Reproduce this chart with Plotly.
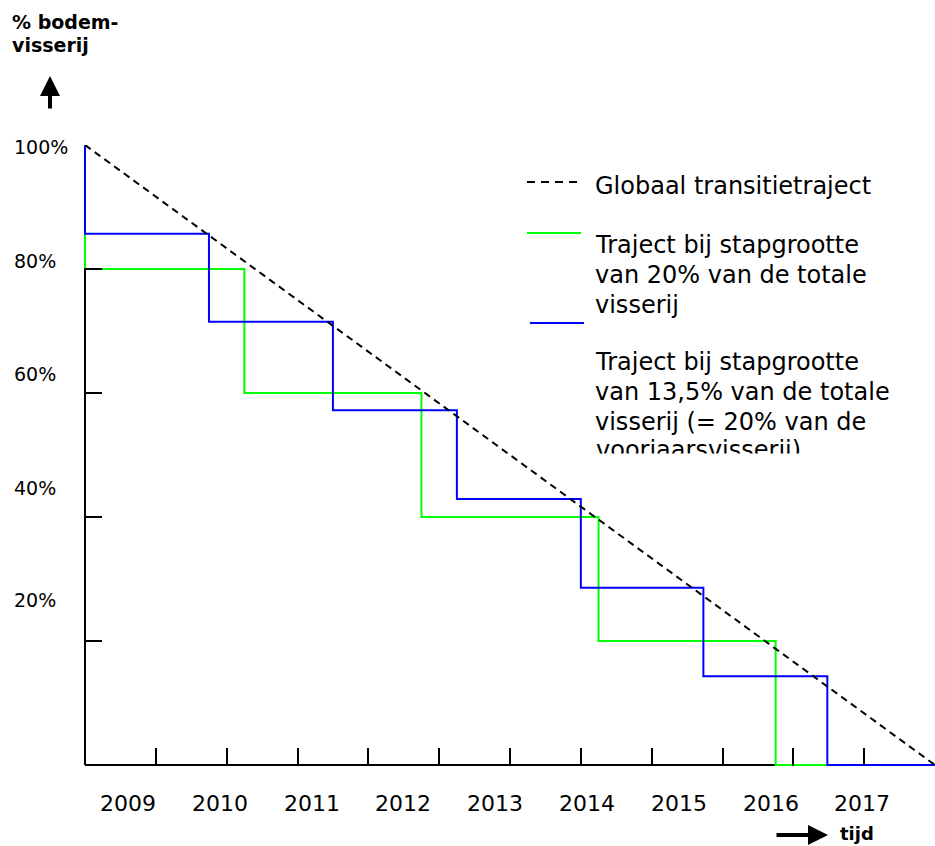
import plotly.graph_objects as go

# ---------------- data ----------------
years = ["2009", "2010", "2011", "2012", "2013", "2014", "2015", "2016", "2017"]
year_label_pos = [0.61, 1.91, 3.20, 4.49, 5.79, 7.09, 8.39, 9.68, 10.97]   # x-units of year labels
x_ticks = list(range(0, 13))
y_ticks = [0, 20, 40, 60, 80, 100]
y_labels = ["100%", "80%", "60%", "40%", "20%"]
y_label_pos = [99.6, 81.3, 63.1, 44.7, 26.6]

global_x = [0, 12]
global_y = [100, 0]

green_step_x = [0, 2.25, 4.75, 7.25, 9.75]
green_levels = [80, 60, 40, 20, 0]

blue_step_x = [0, 1.75, 3.5, 5.25, 7.0, 8.73, 10.48]
blue_levels = [85.7, 71.5, 57.2, 42.9, 28.6, 14.3, 0]

legend_names = ["Globaal transitietraject",
                "Traject bij stapgrootte<br>van 20% van de totale<br>visserij",
                "Traject bij stapgrootte<br>van 13,5% van de totale<br>visserij (= 20% van de<br>voorjaarsvisserij)"]

GREEN = "#00FF00"
BLUE = "#0000FF"
FONT = "DejaVu Sans"

# geometry: x=0 at px 85, x=12 at px 935; y=0 at px 765, y=100 at px 145
XS = 850 / 12.0      # px per x-unit
YS = 620 / 100.0     # px per %
X_PAD = 1.0 / XS     # 1px padding left so the x=0 line is fully visible
Y_PAD = 1.0 / YS     # 1px padding below

def dx(px):
    return (px - 85) / XS

def dy(py):
    return (765 - py) / YS

PLOT_L, PLOT_T = 84, 145
PLOT_W, PLOT_H = 851, 621

def px_(px):
    return (px - PLOT_L) / PLOT_W

def py_(py):
    return (PLOT_T + PLOT_H - py) / PLOT_H

fig = go.Figure()

fig.add_trace(go.Scatter(x=[0] + green_step_x + [12], y=[100] + green_levels + [0],
                         mode="lines", line=dict(color=GREEN, width=2, shape="hv"),
                         showlegend=False, hoverinfo="skip"))
fig.add_trace(go.Scatter(x=[0] + blue_step_x + [12], y=[100] + blue_levels + [0],
                         mode="lines", line=dict(color=BLUE, width=2, shape="hv"),
                         showlegend=False, hoverinfo="skip"))
fig.add_trace(go.Scatter(x=global_x, y=global_y, mode="lines",
                         line=dict(color="black", width=2, dash="7px,5px"),
                         showlegend=False, hoverinfo="skip"))

# legend text lines
ann = []
leg_lines = [(legend_names[0], 186)]
for i, t in enumerate(legend_names[1].split("<br>")):
    leg_lines.append((t, 245 + 30 * i))
blk3 = legend_names[2].split("<br>")
for i, t in enumerate(blk3[:-1]):
    leg_lines.append((t, 362 + 30 * i))
for t, py in leg_lines:
    ann.append(dict(x=dx(593), y=dy(py), text=t, showarrow=False, xanchor="left", yanchor="middle",
                    font=dict(family=FONT, size=24, color="black")))

# last (clipped) legend line as text trace so a white mask can cut it
fig.add_trace(go.Scatter(x=[dx(596)], y=[dy(452)], mode="text", text=[blk3[-1]],
                         textposition="middle right", cliponaxis=False,
                         textfont=dict(family=FONT, size=24, color="black"),
                         showlegend=False, hoverinfo="skip"))

shapes = [
    # axis lines (below the traces, so coloured lines cover them as in the original)
    dict(type="line", x0=0, x1=0, y0=0, y1=100, layer="below", line=dict(color="black", width=2)),
    dict(type="line", x0=0, x1=12, y0=0, y1=0, layer="below", line=dict(color="black", width=2)),
    # legend samples
    dict(type="line", x0=dx(527), x1=dx(578), y0=dy(182), y1=dy(182),
         line=dict(color="black", width=2, dash="8px,6px")),
    dict(type="line", x0=dx(527), x1=dx(581), y0=dy(233), y1=dy(233),
         line=dict(color=GREEN, width=2)),
    dict(type="line", x0=dx(530), x1=dx(584), y0=dy(323), y1=dy(323),
         line=dict(color=BLUE, width=2)),
    dict(type="rect", x0=dx(588), x1=dx(920), y0=dy(453.5), y1=dy(478), layer="above",
         fillcolor="white", line=dict(width=0)),
]

# year labels
for lab, xp in zip(years, year_label_pos):
    ann.append(dict(x=xp, xref="x", yref="paper", y=py_(803), text=lab, showarrow=False,
                    xanchor="center", yanchor="middle",
                    font=dict(family=FONT, size=22, color="black")))
# y labels
for lab, yp in zip(y_labels, y_label_pos):
    ann.append(dict(xref="paper", x=px_(12), y=yp, text=lab, showarrow=False,
                    xanchor="left", yanchor="middle",
                    font=dict(family=FONT, size=19, color="black")))

# title top-left
ann.append(dict(xref="paper", yref="paper", x=px_(10), y=py_(22), text="<b>% bodem-</b>", showarrow=False,
                xanchor="left", yanchor="middle", font=dict(family=FONT, size=19, color="black")))
ann.append(dict(xref="paper", yref="paper", x=px_(10), y=py_(45), text="<b>visserij</b>", showarrow=False,
                xanchor="left", yanchor="middle", font=dict(family=FONT, size=19, color="black")))
# up arrow
ann.append(dict(xref="paper", yref="paper", x=px_(50), y=py_(76), ax=0, ay=34, text="", showarrow=True,
                arrowhead=2, arrowsize=1, arrowwidth=4, arrowcolor="black"))
# right arrow + tijd
ann.append(dict(xref="paper", yref="paper", x=px_(828), y=py_(835), ax=-53, ay=0, text="", showarrow=True,
                arrowhead=2, arrowsize=1, arrowwidth=4, arrowcolor="black"))
ann.append(dict(xref="paper", yref="paper", x=px_(838), y=py_(833), text="<b>tijd</b>", showarrow=False,
                xanchor="left", yanchor="middle", font=dict(family=FONT, size=18, color="black")))

fig.update_layout(
    width=935, height=846,
    margin=dict(l=PLOT_L, r=935 - PLOT_L - PLOT_W, t=PLOT_T, b=846 - PLOT_T - PLOT_H),
    paper_bgcolor="white", plot_bgcolor="white",
    showlegend=False,
    annotations=ann, shapes=shapes,
    xaxis=dict(range=[-X_PAD, 12], showgrid=False, zeroline=False, showline=False,
               ticks="inside", ticklen=18, tickwidth=2, tickcolor="black",
               tickvals=x_ticks, showticklabels=False, fixedrange=True),
    yaxis=dict(range=[-Y_PAD, 100], showgrid=False, zeroline=False, showline=False,
               ticks="inside", ticklen=18, tickwidth=2, tickcolor="black",
               tickvals=y_ticks, showticklabels=False, fixedrange=True),
)

fig.write_html("out.html", config={"displayModeBar": False},
               post_script="document.body.style.margin='0px';document.body.style.overflow='hidden';")
